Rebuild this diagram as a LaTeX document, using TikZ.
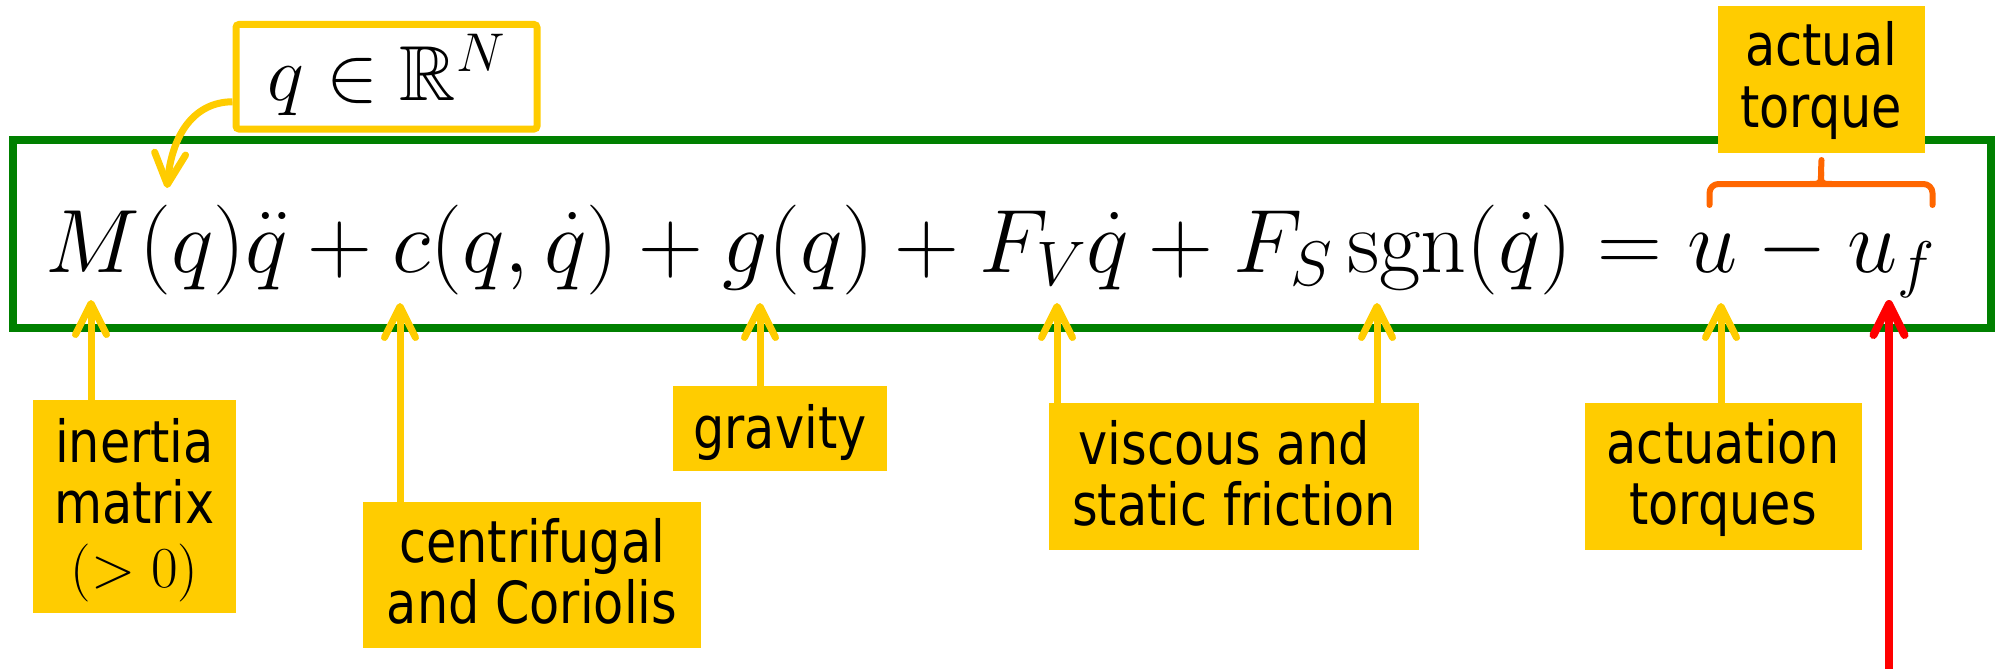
\RequirePackage{fix-cm}
\documentclass[tikz,border=0pt]{standalone}
\usepackage{amsmath,amssymb}
\usepackage{graphicx}
\usepackage{fontspec}
\newfontfamily\lblfont{DejaVu Sans}[FakeStretch=0.85]
\usetikzlibrary{arrows.meta}
\definecolor{ygold}{RGB}{255,204,0}
\definecolor{eqgreen}{RGB}{0,128,0}
\definecolor{braceorange}{RGB}{255,102,0}
\definecolor{fred}{RGB}{255,0,0}
\tikzset{
  ybox/.style={fill=ygold, inner sep=0pt, outer sep=0pt},
  lbl/.style={font=\lblfont\fontsize{58}{61}\selectfont, inner sep=0pt, anchor=base},
  eqtext/.style={font=\fontsize{83}{90}\selectfont, inner sep=0pt, anchor=base west},
  yarrow/.style={draw=ygold, line width=7pt, -{Straight Barb[length=31pt, width=31pt, round]}},
  rarrow/.style={draw=fred, line width=8pt, -{Straight Barb[length=31pt, width=31pt, round]}},
  bracestyle/.style={draw=braceorange, line width=6pt, line cap=round, line join=round}
}
\begin{document}
\begin{tikzpicture}[x=1pt,y=-1pt]
\useasboundingbox (0,0) rectangle (1995,669);

% equation frame
\node[draw=eqgreen, line width=8pt, minimum width=1978.5pt, minimum height=188pt, inner sep=0pt] (frame) at (1001.75,234) {};

% equation
\node[eqtext] (eqn) at (45,272) {\resizebox{1890pt}{!}{$M(q)\ddot{q} + c(q,\dot{q}) + g(q) + F_V\dot{q} + F_S\operatorname{sgn}(\dot{q}) = u - u_f$}};

% q in R^N box
\node[draw=ygold, line width=7pt, fill=white, rounded corners=3pt, minimum width=301pt, minimum height=104.5pt, inner sep=0pt,
      text height=60pt, text depth=13.5pt, font=\fontsize{78}{90}\selectfont] (qbox) at (386.5,76.75) {$q\in\mathbb{R}^N$};
\coordinate (tq) at (167,188);
\draw[yarrow] ([yshift=-25pt]qbox.west) .. controls (195,102) and (172,133) .. (tq);

% arrow tips on the equation
\coordinate (tM) at (91,300);
\coordinate (tc) at (400,303);
\coordinate (tg) at (760,303);
\coordinate (tV) at (1057,303);
\coordinate (ts) at (1377,303);
\coordinate (tu) at (1721,303);
\coordinate (tf) at (1889,300);
\coordinate (rb) at (1889,675);

% label boxes
\node[ybox, minimum width=203pt, minimum height=213pt] (inertia) at (134.5,506.5) {};
\node[lbl] (inertia1) at (134.5,462) {inertia};
\node[lbl] (inertia2) at (134.5,523) {matrix};
\node[lbl] (inertia3) at (134.5,587) {$({>}\;0)$};

\node[ybox, minimum width=338pt, minimum height=146pt] (centri) at (532,575) {};
\node[lbl] (centri1) at (532,562) {centrifugal};
\node[lbl] (centri2) at (532,623) {and Coriolis};

\node[ybox, minimum width=214pt, minimum height=85pt, font=\lblfont\fontsize{58}{61}\selectfont, text height=50pt, text depth=11pt] (grav) at (780,428.5) {gravity};

\node[ybox, minimum width=370pt, minimum height=147pt] (visc) at (1234,476.5) {};
\node[lbl] (visc1) at (1224,464) {viscous and};
\node[lbl] (visc2) at (1234,525) {static friction};

\node[ybox, minimum width=277pt, minimum height=147pt] (act) at (1723.5,476.5) {};
\node[lbl] (act1) at (1723,463) {actuation};
\node[lbl] (act2) at (1723,524) {torques};

% arrows from labels
\draw[yarrow] (inertia.north -| tM) -- (tM);
\draw[yarrow] (centri.north -| tc) -- (tc);
\draw[yarrow] (grav.north -| tg) -- (tg);
\draw[yarrow] (visc.north -| tV) -- (tV);
\draw[yarrow] (visc.north -| ts) -- (ts);
\draw[yarrow] (act.north -| tu) -- (tu);
\draw[rarrow] (rb) -- (tf);

% actual torque
\node[ybox, minimum width=207pt, minimum height=147pt] (actual) at (1821.5,79.5) {};
\node[lbl] (actual1) at (1821,66) {actual};
\node[lbl] (actual2) at (1821,127) {torque};
\draw[bracestyle, rounded corners=9pt] (1709.5,205) -- (1709.5,184) -- (1932.5,184) -- (1932.5,205);
\draw[bracestyle] (1810,184) .. controls (1821,184) .. (1821,172) -- (actual.south |- 0,160);
\draw[bracestyle] (1832,184) .. controls (1821,184) .. (1821,172);
\end{tikzpicture}
\end{document}
